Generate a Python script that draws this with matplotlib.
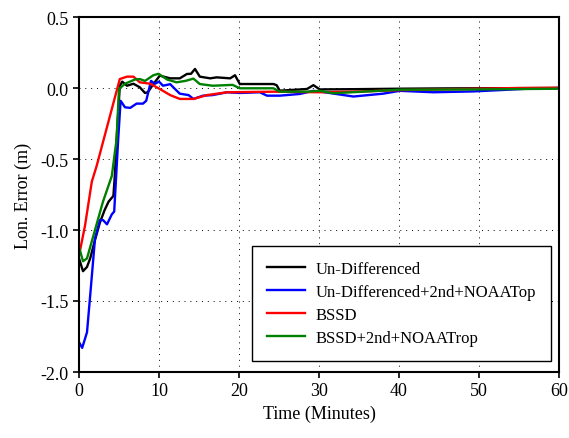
import matplotlib
matplotlib.use("Agg")
from matplotlib import pyplot as plt

# values
t_ud = [0, 0.5, 1.0, 1.4, 2.0, 2.6, 3.2, 3.7, 4.3, 4.5, 4.7, 5.1, 5.4, 6.0, 6.8, 7.6, 8.25, 8.6, 9.3,
        10.1, 11.4, 12.6, 13.5, 14.0, 14.5, 15.1, 16.4, 17.2, 18.9, 19.5, 20.1, 24.3, 24.7, 25.1,
        28.5, 29.3, 30.1, 35, 40, 45, 50, 55, 60]
ud = [-1.2, -1.29, -1.26, -1.2, -1.07, -0.95, -0.86, -0.80, -0.76, -0.6, -0.36, 0.016, 0.045, 0.016,
      0.03, 0.005, -0.035, -0.03, 0.028, 0.087, 0.068, 0.068, 0.099, 0.10, 0.134, 0.08, 0.068, 0.075,
      0.068, 0.09, 0.028, 0.028, 0.02, -0.019, -0.007, 0.02, -0.01, -0.008, -0.005, -0.003, -0.002,
      -0.001, 0.0]

t_ud2 = [0, 0.4, 1.0, 1.4, 2.0, 2.6, 3.0, 3.5, 4.1, 4.4, 4.9, 5.2, 5.75, 6.4, 7.2, 8.0, 8.4, 9.0, 9.5,
         10.0, 10.5, 11.4, 12.0, 12.6, 13.7, 14.3, 15.5, 16.7, 18.5, 20.1, 22.6, 23.5, 25.1, 27.6,
         29.3, 30.1, 34.3, 38, 40.1, 44.3, 49.3, 52.6, 56, 60]
ud2 = [-1.79, -1.83, -1.72, -1.46, -1.06, -0.93, -0.93, -0.96, -0.89, -0.87, -0.36, -0.09, -0.136,
       -0.14, -0.11, -0.11, -0.09, 0.05, 0.03, 0.045, 0.016, 0.027, -0.007, -0.04, -0.05, -0.077,
       -0.054, -0.05, -0.03, -0.035, -0.03, -0.054, -0.054, -0.042, -0.02, -0.025, -0.06, -0.04,
       -0.02, -0.03, -0.024, -0.015, -0.005, 0.0]

t_bssd = [0, 0.75, 1.6, 2.2, 5.1, 6.0, 6.8, 7.6, 8.9, 10.1, 11.4, 12.6, 14.3, 16.0, 18.5, 24.3, 30.1,
          35, 40, 45, 50, 55, 60]
bssd = [-1.18, -0.97, -0.66, -0.55, 0.063, 0.08, 0.08, 0.04, 0.03, -0.007, -0.05, -0.077, -0.077,
        -0.05, -0.03, -0.026, -0.03, -0.025, -0.015, -0.01, -0.005, 0.0, 0.002]

t_bssd2 = [0, 0.5, 1.0, 1.8, 3.0, 4.1, 4.7, 5.0, 5.75, 7.0, 7.6, 8.25, 9.3, 9.95, 11.0, 12.2, 13.3,
           14.3, 15.1, 16.7, 19.2, 20.1, 24.3, 25.1, 28.5, 30.1, 31.8, 40.1, 50, 60]
bssd2 = [-1.12, -1.22, -1.2, -1.04, -0.80, -0.62, -0.36, -0.007, 0.03, 0.06, 0.063, 0.05, 0.09, 0.1,
         0.06, 0.04, 0.05, 0.066, 0.028, 0.016, 0.022, -0.002, -0.002, -0.026, -0.026, -0.02, -0.037,
         -0.012, -0.01, -0.005]

plt.rcParams["font.family"] = ["Liberation Serif", "DejaVu Serif"]
plt.rcParams["font.size"] = 13

fig = plt.figure(figsize=(5.69, 4.39), dpi=100)
ax = fig.add_axes([79 / 569, 1 - 373 / 439, 480 / 569, 355 / 439])

ax.plot(t_ud, ud, color="black", lw=1.7, label="Un-Differenced")
ax.plot(t_ud2, ud2, color="blue", lw=1.7, label="Un-Differenced+2nd+NOAATop")
ax.plot(t_bssd, bssd, color="red", lw=1.7, label="BSSD")
ax.plot(t_bssd2, bssd2, color="green", lw=1.7, label="BSSD+2nd+NOAATrop")

ax.set_xlim(0, 60)
ax.set_ylim(-2.0, 0.5)
ax.set_xticks(range(0, 61, 10))
ax.set_yticks([-2.0, -1.5, -1.0, -0.5, 0.0, 0.5])
ax.set_yticklabels(["-2.0", "-1.5", "-1.0", "-0.5", "0.0", "0.5"])
ax.grid(True, color="black", linestyle=(0, (1, 5)), linewidth=0.7)
ax.tick_params(direction="out", length=4, width=1.2, labelsize=13)
for s in ax.spines.values():
    s.set_linewidth(1.5)

ax.set_xlabel("Time (Minutes)", fontsize=13, labelpad=4)
ax.set_ylabel("Lon. Error (m)", fontsize=13, labelpad=6)

leg = ax.legend(loc="lower right", bbox_to_anchor=(0.983, 0.031), borderaxespad=0, fontsize=12,
                frameon=True, fancybox=False, edgecolor="black", framealpha=1,
                handlelength=2.3, handletextpad=0.6, labelspacing=0.42, borderpad=0.9)
leg.get_frame().set_linewidth(1.0)

fig.savefig("out.png", dpi=100)
